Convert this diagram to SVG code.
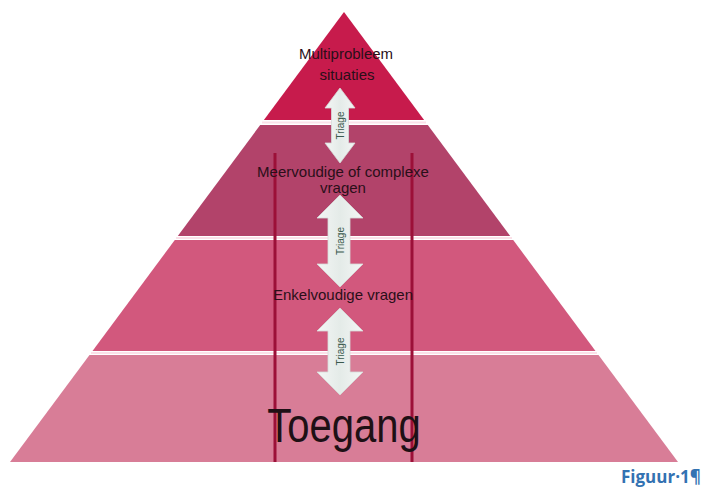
<svg xmlns="http://www.w3.org/2000/svg" width="703" height="492" viewBox="0 0 703 492">
<style>
.lbl{font-family:"Liberation Sans",Arial,sans-serif;font-size:15px;fill:#2a0f19;text-anchor:middle}
.tri{font-family:"Liberation Sans",Arial,sans-serif;font-size:10px;fill:#3b5a4e;text-anchor:middle}
.arrow{fill:url(#ag);stroke:#d6dcd9;stroke-width:0.8}
.vline{stroke:#9c1038;stroke-width:3}
</style>
<defs>
<linearGradient id="ag" x1="0" y1="0" x2="1" y2="0">
<stop offset="0" stop-color="#f4f6f5"/>
<stop offset="0.5" stop-color="#e4ebe8"/>
<stop offset="1" stop-color="#f4f6f5"/>
</linearGradient>
</defs>
<rect width="703" height="492" fill="#ffffff"/>
<g id="pyramid">
<g id="level1">
<polygon points="344,12 424.1,120 263.9,120" fill="#c71b4c"/>
</g>
<g id="level2">
<polygon points="260.2,125 427.8,125 510.2,236 177.8,236" fill="#b2436a"/>
</g>
<g id="level3">
<polygon points="174.8,240 513.2,240 595.5,351 92.5,351" fill="#d2587d"/>
</g>
<g id="level4">
<polygon points="89.5,355 598.5,355 678,462 10,462" fill="#d87d97"/>
</g>
<g id="dividers" stroke="#fbe0e8" stroke-width="2">
<line x1="262" y1="122.5" x2="426" y2="122.5"/>
<line x1="176" y1="238" x2="512" y2="238"/>
<line x1="91" y1="353" x2="597" y2="353"/>
</g>
</g>
<g id="vlines">
<line class="vline" x1="275" y1="153" x2="275" y2="462"/>
<line class="vline" x1="412" y1="153" x2="412" y2="462"/>
</g>
<g id="connectors">
<g id="triage1">
<polygon class="arrow" points="340,88 355,108 348.5,108 348.5,143 355,143 340,163 325,143 331.5,143 331.5,108 325,108"/>
<text class="tri" transform="translate(343.5,125.5) rotate(-90)">Triage</text>
</g>
<g id="triage2">
<polygon class="arrow" points="340,195 363,218 350,218 350,264 363,264 340,287 317,264 328,264 328,218 317,218"/>
<text class="tri" transform="translate(343.5,241) rotate(-90)">Triage</text>
</g>
<g id="triage3">
<polygon class="arrow" points="340,308 363,331 350,331 350,372 363,372 340,395 317,372 328,372 328,331 317,331"/>
<text class="tri" transform="translate(343.5,351.5) rotate(-90)">Triage</text>
</g>
</g>
<g id="labels">
<g id="n1"><text class="lbl" x="346" y="59">Multiprobleem</text><text class="lbl" x="347" y="80">situaties</text></g>
<g id="n2"><text class="lbl" x="343" y="177">Meervoudige of complexe</text><text class="lbl" x="343" y="193">vragen</text></g>
<g id="n3"><text class="lbl" x="343" y="300">Enkelvoudige vragen</text></g>
<g id="n4"><text transform="translate(344,442) scale(1,1.18)" font-family="Liberation Sans, Arial, sans-serif" font-size="40" fill="#1e1015" text-anchor="middle">Toegang</text></g>
</g>
<text x="621" y="483" font-family="Open Sans, Liberation Sans, sans-serif" font-size="17" font-weight="bold" fill="#3372b2">Figuur·1¶</text>
</svg>
